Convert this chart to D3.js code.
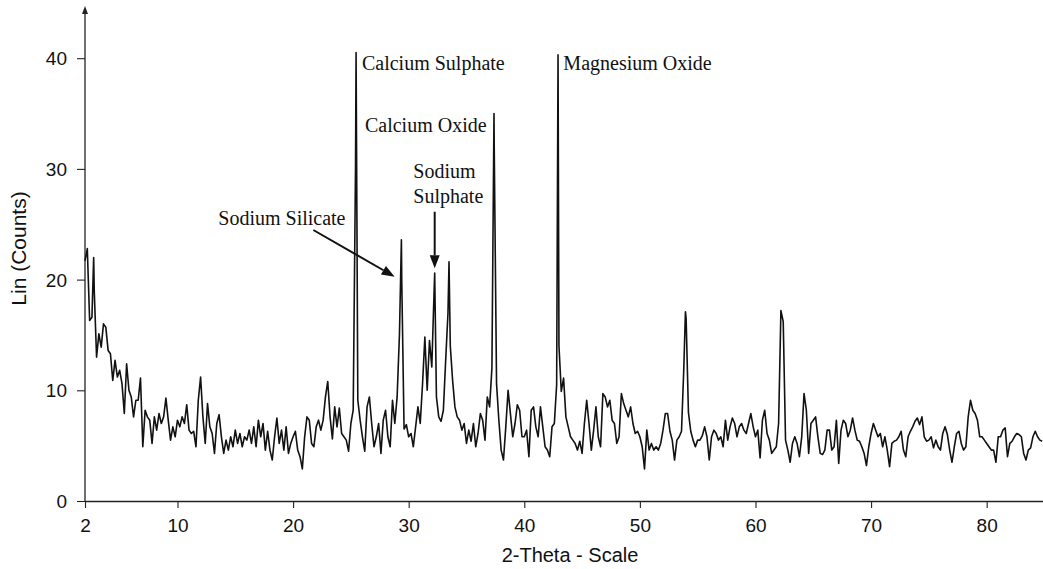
<!DOCTYPE html>
<html><head><meta charset="utf-8">
<script src="https://cdn.jsdelivr.net/npm/d3@7"></script>
<style>body{margin:0;background:#fff}svg{display:block}</style>
</head><body>
<svg id="chart" width="1043" height="569"></svg>
<script>
// ---- data ----
const thetaStart = 2.0;
const thetaStep = 0.2;
// intensity every 0.2 deg, one row per degree (x.0, x.2, x.4, x.6, x.8)
const counts = [
/* 2 */ 21.7, 22.8, 16.3, 16.6, 19.0,
/* 3 */ 13.0, 15.1, 13.9, 16.0, 15.7,
/* 4 */ 13.6, 13.3, 10.9, 12.7, 11.2,
/* 5 */ 11.8, 10.6, 7.9, 12.4, 10.0,
/* 6 */ 9.4, 7.6, 9.1, 9.1, 11.1,
/* 7 */ 4.9, 8.2, 7.6, 7.3, 5.2,
/* 8 */ 7.6, 6.4, 7.9, 7.0, 7.6,
/* 9 */ 9.3, 7.3, 5.5, 6.7, 5.8,
/* 10 */ 7.3, 6.7, 7.6, 7.0, 8.7,
/* 11 */ 6.4, 6.1, 6.3, 4.9, 9.1,
/* 12 */ 11.2, 7.6, 5.2, 8.8, 6.7,
/* 13 */ 6.1, 4.3, 7.0, 7.8, 5.8,
/* 14 */ 4.3, 5.5, 4.6, 5.8, 4.9,
/* 15 */ 6.4, 5.2, 6.1, 4.9, 5.8,
/* 16 */ 5.5, 6.4, 5.2, 6.7, 4.9,
/* 17 */ 7.3, 5.8, 7.0, 4.6, 6.3,
/* 18 */ 4.6, 3.7, 5.8, 7.5, 5.2,
/* 19 */ 6.4, 4.6, 6.7, 4.3, 5.2,
/* 20 */ 5.8, 6.3, 4.6, 4.0, 2.9,
/* 21 */ 5.8, 7.6, 7.3, 5.2, 4.9,
/* 22 */ 6.7, 7.3, 6.4, 7.3, 9.4,
/* 23 */ 10.8, 7.6, 5.6, 8.5, 6.7,
/* 24 */ 8.4, 6.1, 5.8, 5.5, 4.5,
/* 25 */ 7.0, 8.2, 30.0, 9.1, 7.3,
/* 26 */ 5.8, 4.5, 8.5, 9.4, 7.0,
/* 27 */ 4.9, 5.8, 7.0, 4.3, 7.3,
/* 28 */ 8.2, 5.8, 4.9, 9.1, 7.0,
/* 29 */ 9.4, 15.0, 20.0, 6.5, 6.9,
/* 30 */ 5.8, 6.1, 4.9, 6.7, 8.5,
/* 31 */ 7.0, 10.6, 14.8, 10.0, 14.5,
/* 32 */ 12.1, 19.0, 9.4, 7.6, 7.2,
/* 33 */ 8.2, 12.7, 17.0, 14.0, 10.9,
/* 34 */ 8.5, 7.6, 7.3, 6.4, 7.0,
/* 35 */ 5.2, 6.4, 5.4, 7.0, 4.9,
/* 36 */ 6.1, 7.9, 7.3, 5.5, 9.4,
/* 37 */ 8.5, 12.0, 32.0, 10.6, 7.3,
/* 38 */ 4.6, 3.7, 6.7, 10.0, 7.9,
/* 39 */ 5.8, 7.0, 8.7, 8.2, 5.8,
/* 40 */ 5.8, 6.4, 4.0, 8.2, 8.5,
/* 41 */ 6.7, 5.8, 8.5, 6.7, 4.9,
/* 42 */ 4.6, 4.0, 6.7, 7.0, 10.5,
/* 43 */ 14.0, 9.9, 11.1, 7.6, 6.7,
/* 44 */ 5.8, 5.5, 5.2, 4.6, 5.4,
/* 45 */ 4.3, 7.0, 9.1, 7.0, 4.6,
/* 46 */ 6.4, 8.5, 5.8, 4.9, 9.7,
/* 47 */ 9.4, 8.5, 9.1, 7.3, 7.0,
/* 48 */ 5.2, 5.8, 9.7, 8.8, 8.2,
/* 49 */ 7.6, 8.5, 7.0, 6.1, 6.3,
/* 50 */ 5.8, 4.9, 2.9, 6.4, 4.6,
/* 51 */ 5.2, 4.6, 4.9, 4.6, 5.2,
/* 52 */ 6.4, 7.9, 7.9, 6.3, 5.5,
/* 53 */ 3.7, 5.5, 5.8, 6.3, 12.0,
/* 54 */ 16.5, 8.0, 6.3, 5.5, 4.9,
/* 55 */ 5.5, 5.5, 5.9, 6.7, 5.8,
/* 56 */ 3.7, 5.8, 6.4, 6.1, 5.5,
/* 57 */ 5.8, 4.9, 7.3, 5.5, 6.7,
/* 58 */ 7.5, 7.0, 5.8, 6.7, 7.0,
/* 59 */ 6.4, 6.1, 7.0, 7.9, 6.7,
/* 60 */ 5.8, 6.4, 3.9, 7.3, 8.2,
/* 61 */ 6.1, 5.5, 4.3, 4.6, 4.9,
/* 62 */ 7.0, 17.2, 16.2, 5.5, 4.6,
/* 63 */ 3.5, 5.2, 5.8, 5.2, 4.0,
/* 64 */ 5.8, 9.7, 8.2, 4.3, 7.0,
/* 65 */ 7.3, 7.6, 5.8, 4.3, 4.2,
/* 66 */ 4.6, 6.4, 6.4, 4.6, 4.9,
/* 67 */ 7.3, 3.4, 6.4, 7.3, 7.0,
/* 68 */ 5.8, 6.4, 7.5, 6.4, 5.5,
/* 69 */ 5.4, 4.9, 4.3, 3.2, 4.9,
/* 70 */ 6.1, 7.0, 6.4, 5.8, 6.1,
/* 71 */ 4.9, 5.8, 4.6, 3.1, 5.2,
/* 72 */ 5.4, 5.5, 5.8, 6.3, 4.6,
/* 73 */ 4.0, 5.8, 6.3, 6.7, 7.2,
/* 74 */ 7.5, 6.9, 7.6, 5.8, 5.4,
/* 75 */ 5.5, 5.8, 4.8, 5.5, 4.9,
/* 76 */ 4.6, 6.1, 6.7, 6.0, 4.6,
/* 77 */ 3.5, 4.9, 6.1, 6.3, 5.2,
/* 78 */ 4.6, 4.9, 7.6, 9.1, 8.2,
/* 79 */ 7.9, 7.3, 5.8, 5.8, 5.5,
/* 80 */ 5.2, 4.9, 4.6, 4.6, 3.5,
/* 81 */ 5.8, 5.8, 6.4, 6.6, 4.0,
/* 82 */ 5.2, 5.4, 5.8, 6.1, 6.0,
/* 83 */ 5.8, 4.3, 3.7, 4.6, 4.8,
/* 84 */ 5.8, 6.3, 5.8, 5.5, 5.4
];
// peak tops that fall between the 0.2 deg samples: [2-theta, counts]
const peakApex = [
  [2.75, 22.0], [25.45, 40.5], [29.37, 23.6], [32.25, 20.6],
  [33.49, 21.6], [37.38, 35.0], [42.92, 40.3], [53.94, 17.1]
];
const xTickLabels = [2, 10, 20, 30, 40, 50, 60, 70, 80];
const yTickLabels = [0, 10, 20, 30, 40];
const xTitle = "2-Theta - Scale";
const yTitle = "Lin (Counts)";
// annotation texts, anchored in data coordinates [2-theta, counts]
const labelTexts = ["Calcium Sulphate", "Magnesium Oxide", "Calcium Oxide", "Sodium", "Sulphate", "Sodium Silicate"];
const labelAnchors = [[25.96, 38.93], [43.38, 38.93], [26.22, 33.36], [30.40, 29.18], [30.40, 26.95], [13.53, 24.93]];
// arrows: [from, to] in data coordinates
const arrowSegments = [
  [[21.75, 24.48], [28.79, 20.26]],
  [[32.25, 26.13], [32.25, 21.02]]
];

// ---- drawing ----
const svg = d3.select("#chart");
const x = d3.scaleLinear().domain([2, 85]).range([85, 85 + 83 * 11.56]);
const y = d3.scaleLinear().domain([0, 44]).range([501, 501 - 44 * 11.07]);

const series = counts.map((v, i) => [+(thetaStart + i * thetaStep).toFixed(2), v])
  .concat(peakApex)
  .sort((a, b) => a[0] - b[0]);

const sans = "'Liberation Sans', Arial, Helvetica, sans-serif";
const serif = "'Liberation Serif', 'Times New Roman', serif";

// x axis: minor ticks every degree, longer at multiples of 5
const xMinor = d3.range(3, 85).filter(d => d % 5 !== 0);
const xMid = d3.range(5, 85, 5);
const gx = svg.append("g").attr("transform", `translate(0,${y(0)})`);
gx.call(d3.axisBottom(x).tickValues(xMinor).tickSize(4).tickFormat(""));
gx.call(d3.axisBottom(x).tickValues(xMid.concat([2])).tickSize(7).tickFormat(""));
gx.call(d3.axisBottom(x).tickValues(xTickLabels).tickSize(7).tickSizeOuter(0).tickFormat(d3.format("d")));
gx.selectAll(".domain").attr("stroke", "#222").attr("stroke-width", 1.3);
gx.selectAll(".tick line").attr("stroke", "#222").attr("stroke-width", 1.1);
gx.selectAll("text").attr("y", 31).attr("dy", 0).attr("fill", "#111")
  .style("font-family", sans).style("font-size", "19px");

// y axis
const yMinor = d3.range(1, 45).filter(d => d % 5 !== 0);
const yMid = d3.range(5, 45, 10);
const gy = svg.append("g").attr("transform", `translate(${x(2)},0)`);
gy.call(d3.axisLeft(y).tickValues(yMinor).tickSize(4).tickSizeOuter(0).tickFormat(""));
gy.call(d3.axisLeft(y).tickValues(yMid).tickSize(6).tickSizeOuter(0).tickFormat(""));
gy.call(d3.axisLeft(y).tickValues(yTickLabels).tickSize(8).tickSizeOuter(0).tickFormat(d3.format("d")));
gy.selectAll(".domain").remove();
gy.selectAll(".tick line").attr("stroke", "#222").attr("stroke-width", 1.1);
gy.selectAll("text").attr("x", -18).attr("dy", "0.35em").attr("fill", "#111")
  .style("font-family", sans).style("font-size", "19px");
// y axis line with arrow head at top
gy.append("line").attr("x1", 0).attr("x2", 0).attr("y1", y(0)).attr("y2", 10)
  .attr("stroke", "#222").attr("stroke-width", 1.3);
gy.append("path").attr("d", "M0,6 L-3,14 L3,14 Z").attr("fill", "#222");

// titles
svg.append("text").attr("x", 570).attr("y", 562).attr("text-anchor", "middle")
  .style("font-family", sans).style("font-size", "20px").attr("fill", "#111").text(xTitle);
svg.append("text").attr("transform", `translate(26,${(y(0) + 8) / 2 - 6}) rotate(-90)`)
  .attr("text-anchor", "middle").style("font-family", sans).style("font-size", "21px")
  .attr("fill", "#111").text(yTitle);

// pattern
svg.append("path").datum(series)
  .attr("fill", "none").attr("stroke", "#111").attr("stroke-width", 1.6)
  .attr("stroke-linejoin", "round")
  .attr("d", d3.line().x(d => x(d[0])).y(d => y(d[1])));

// annotations
svg.selectAll("text.ann").data(labelTexts).join("text").attr("class", "ann")
  .attr("x", (d, i) => x(labelAnchors[i][0])).attr("y", (d, i) => y(labelAnchors[i][1]))
  .style("font-family", serif).style("font-size", "20px").attr("fill", "#111").text(d => d);

arrowSegments.forEach(([a, b]) => {
  const x1 = x(a[0]), y1 = y(a[1]), x2 = x(b[0]), y2 = y(b[1]);
  const ang = Math.atan2(y2 - y1, x2 - x1);
  const L = 13, W = 5;
  const bx = x2 - L * Math.cos(ang), by = y2 - L * Math.sin(ang);
  svg.append("line").attr("x1", x1).attr("y1", y1).attr("x2", bx).attr("y2", by)
    .attr("stroke", "#111").attr("stroke-width", 2);
  const px = -Math.sin(ang) * W, py = Math.cos(ang) * W;
  svg.append("path").attr("d", `M${x2},${y2} L${bx + px},${by + py} L${bx - px},${by - py} Z`).attr("fill", "#111");
});
</script>
</body></html>
